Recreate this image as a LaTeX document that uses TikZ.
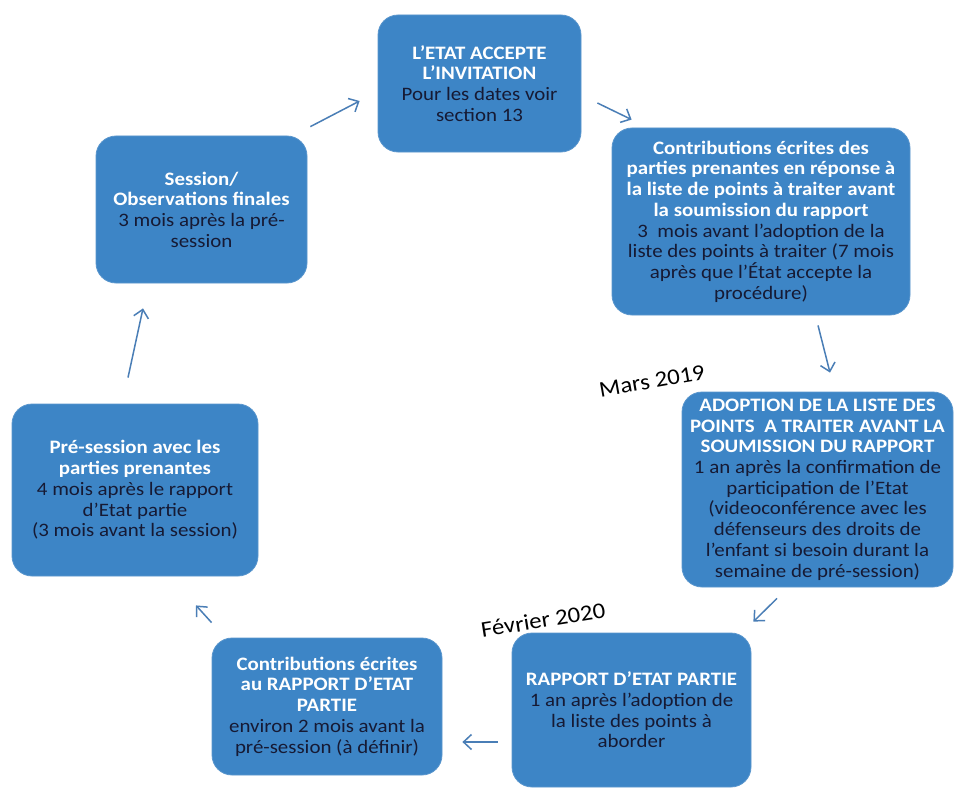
\documentclass[tikz,border=0pt]{standalone}
\usepackage{fontspec}
\setmainfont{Carlito}[FakeStretch=1.1]
\usetikzlibrary{arrows.meta}
\definecolor{boxblue}{RGB}{61,133,198}
\definecolor{boxedge}{RGB}{90,150,205}
\definecolor{bodytext}{RGB}{22,26,52}
\definecolor{arrowblue}{RGB}{74,126,182}
\tikzset{
  stagebox/.style={draw=boxedge, line width=0.8pt, fill=boxblue, rounded corners=20pt,
    align=center, font=\fontsize{19}{20.7}\selectfont, text=bodytext, inner sep=3pt},
  arr/.style={draw=arrowblue, line width=1.5pt, -{Straight Barb[length=8pt,width=15pt,line width=1.5pt]}},
  datelbl/.style={font=\fontsize{22.5}{24}\selectfont, text=black}
}
\newcommand{\hd}[1]{\textbf{\textcolor{white}{#1}}}
\begin{document}
\begin{tikzpicture}[x=1pt,y=-1pt]
\useasboundingbox[fill=white] (0,0) rectangle (958,789);
\node[stagebox, minimum width=203pt, minimum height=137pt] (a) at (479.5,83.5)
  {\hd{L'ETAT ACCEPTE}\\\hd{L'INVITATION}\\Pour les dates voir\\section 13};
\node[stagebox, minimum width=298pt, minimum height=187pt] (b) at (761,221.5)
  {\hd{Contributions écrites des}\\\hd{parties prenantes en réponse à}\\\hd{la liste de points à traiter avant}\\\hd{la soumission du rapport}\\3\ \ mois avant l'adoption de la\\liste des points à traiter (7 mois\\après que l'État accepte la\\procédure)};
\node[stagebox, minimum width=271pt, minimum height=195pt] (c) at (817.5,489.5)
  {\hd{ADOPTION DE LA LISTE DES}\\\hd{POINTS\ \ A TRAITER AVANT LA}\\\hd{SOUMISSION DU RAPPORT}\\1 an après la confirmation de\\participation de l'Etat\\(videoconférence avec les\\défenseurs des droits de\\l'enfant si besoin durant la\\semaine de pré-session)};
\node[stagebox, minimum width=239pt, minimum height=154pt] (d) at (631.5,710)
  {\hd{RAPPORT D'ETAT PARTIE}\\1 an après l'adoption de\\la liste des points à\\aborder};
\node[stagebox, minimum width=230pt, minimum height=137pt] (e) at (327,706.5)
  {\hd{Contributions écrites}\\\hd{au RAPPORT D'ETAT}\\\hd{PARTIE}\\environ 2 mois avant la\\pré-session (à définir)};
\node[stagebox, minimum width=246pt, minimum height=172pt] (f) at (135,490)
  {\hd{Pré-session avec les}\\\hd{parties prenantes}\\4 mois après le rapport\\d'Etat partie\\(3 mois avant la session)};
\node[stagebox, minimum width=211pt, minimum height=147pt] (g) at (201.5,209.5)
  {\hd{Session/}\\\hd{Observations finales}\\3 mois après la pré-\\session};
\node[datelbl, rotate=10] (m) at (652,381) {Mars 2019};
\node[datelbl, rotate=9] (n) at (543,620) {Février 2020};
\draw[arr] ([shift={(3,-9)}]g.north east) -- ([shift={(-18,17.5)}]a.west);
\draw[arr] ([shift={(16,19.5)}]a.east) -- ([shift={(20,-8)}]b.north west);
\draw[arr] ([shift={(57,10)}]b.south) -- ([shift={(12.5,-19)}]c.north);
\draw[arr] ([shift={(-40.5,11)}]c.south) -- ([shift={(2,-11)}]d.north east);
\draw[arr] ([shift={(-14,32)}]d.west) -- ([shift={(20,35.5)}]e.east);
\draw[arr] ([shift={(0,-15)}]e.north west) -- ([shift={(61,29)}]f.south);
\draw[arr] ([shift={(-7,-26)}]f.north) -- ([shift={(-58.5,25)}]g.south);
\end{tikzpicture}
\end{document}
